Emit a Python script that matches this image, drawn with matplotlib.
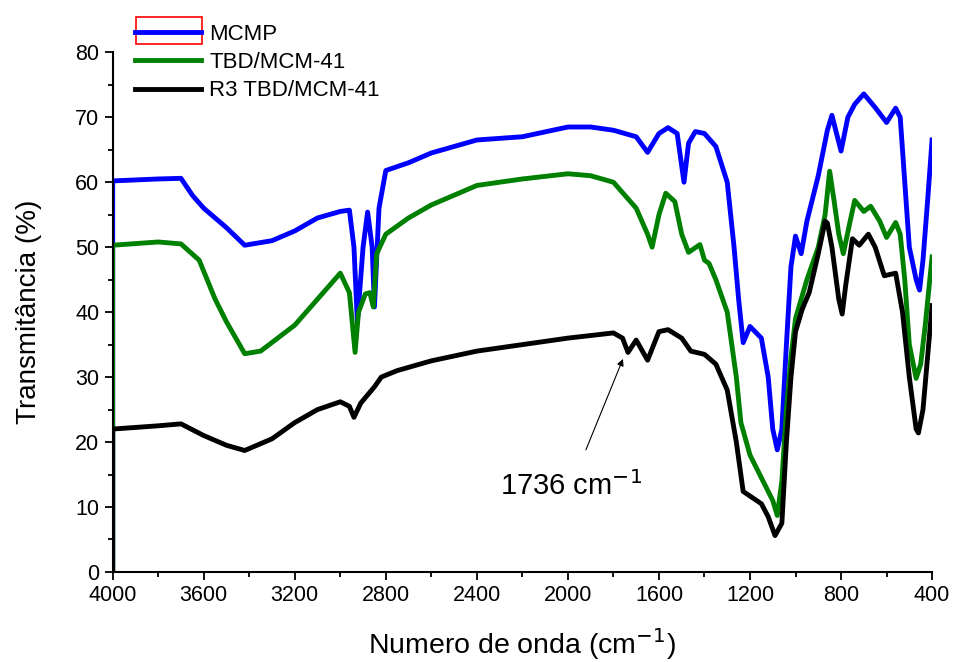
import numpy as np
import matplotlib.pyplot as plt
from matplotlib.patches import Rectangle
from matplotlib.ticker import MultipleLocator

plt.rcParams['font.family'] = ['Liberation Sans', 'DejaVu Sans']

# wavenumber (cm-1) / transmittance (%)
x_mcmp = [4000, 4000, 3800, 3700, 3650, 3600, 3500, 3420, 3300, 3200, 3100, 3000, 2960, 2940, 2925,
          2900, 2880, 2860, 2850, 2830, 2800, 2700, 2600, 2400, 2200, 2000, 1900, 1800, 1700, 1650,
          1600, 1560, 1520, 1490, 1470, 1440, 1400, 1350, 1300, 1270, 1250, 1230, 1200, 1150, 1120,
          1100, 1080, 1060, 1040, 1020, 1000, 975, 950, 900, 860, 840, 800, 770, 740, 700, 650, 600,
          560, 540, 520, 500, 470, 455, 440, 420, 400]
y_mcmp = [0, 60.2, 60.5, 60.6, 58, 56, 53, 50.3, 51, 52.5, 54.5, 55.5, 55.7, 50, 38.5,
          50, 55.4, 50, 40.8, 56, 61.8, 63, 64.5, 66.5, 67, 68.5, 68.5, 68, 67, 64.6,
          67.5, 68.4, 67.5, 60, 66, 67.8, 67.5, 65.5, 60, 50, 42, 35.3, 37.8, 36, 30,
          22, 18.8, 22, 35, 47, 51.7, 49, 54, 61, 68, 70.3, 64.8, 70, 72, 73.6, 71.5, 69.2,
          71.4, 70, 60, 50, 45, 43.4, 48, 57, 66.5]

x_tbd = [4000, 4000, 3800, 3700, 3620, 3550, 3500, 3420, 3350, 3200, 3100, 3000, 2960, 2935, 2920,
         2890, 2870, 2855, 2840, 2800, 2700, 2600, 2400, 2200, 2000, 1900, 1800, 1700, 1650, 1630,
         1600, 1570, 1530, 1500, 1470, 1420, 1400, 1380, 1350, 1300, 1260, 1240, 1200, 1150, 1100,
         1080, 1060, 1040, 1020, 1000, 950, 900, 870, 850, 830, 810, 790, 760, 740, 700, 670, 630,
         600, 560, 540, 520, 500, 470, 450, 430, 400]
y_tbd = [0, 50.3, 50.8, 50.5, 48, 42, 38.5, 33.6, 34, 38, 42, 46, 43, 33.8, 40,
         42.8, 43, 40.8, 49, 52, 54.5, 56.5, 59.5, 60.5, 61.3, 61, 60, 56, 52, 50,
         55, 58.3, 57, 52, 49.2, 50.4, 48, 47.5, 45, 40, 30, 23, 18, 14.5, 11,
         8.7, 14, 25, 33, 39, 45, 50, 55, 61.7, 57, 52, 49, 54, 57.2, 55.5, 56.3, 54,
         51.5, 53.8, 52, 45, 35, 29.8, 32, 38, 48.5]

x_r3 = [4000, 4000, 3800, 3700, 3600, 3500, 3420, 3300, 3200, 3100, 3000, 2960, 2940, 2910, 2850,
        2820, 2750, 2600, 2400, 2200, 2000, 1800, 1760, 1736, 1700, 1650, 1600, 1560, 1500, 1460,
        1400, 1350, 1300, 1260, 1230, 1150, 1120, 1090, 1060, 1040, 1020, 1000, 970, 940, 900, 870,
        860, 840, 810, 795, 780, 750, 720, 680, 650, 610, 560, 530, 500, 470, 460, 440, 420, 400]
y_r3 = [0, 22, 22.5, 22.8, 21, 19.5, 18.7, 20.5, 23, 25, 26.2, 25.5, 23.8, 26, 28.5,
        30, 31, 32.5, 34, 35, 36, 36.8, 36, 33.8, 35.7, 32.6, 37, 37.3, 36, 34,
        33.5, 32, 28, 20, 12.4, 10.5, 8.5, 5.6, 7.5, 20, 30, 37, 40.5, 43, 49, 54,
        53.7, 50, 42, 39.7, 44, 51.3, 50.3, 52, 50, 45.6, 46, 40, 30, 22, 21.4, 25, 33, 41]

labels = ['MCMP', 'TBD/MCM-41', 'R3 TBD/MCM-41']
colors = ['#0000ff', '#008000', '#000000']

fig = plt.figure(figsize=(9.55, 6.62), dpi=100)
ax = fig.add_axes([0.118, 0.136, 0.858, 0.785])

lines = []
for xs, ys, c, lab in zip([x_mcmp, x_tbd, x_r3], [y_mcmp, y_tbd, y_r3], colors, labels):
    ln, = ax.plot(xs, ys, color=c, lw=3.5, label=lab, solid_joinstyle='round')
    lines.append(ln)

ax.set_xlim(4000, 400)
ax.set_ylim(0, 80)
ax.xaxis.set_major_locator(MultipleLocator(400))
ax.xaxis.set_minor_locator(MultipleLocator(200))
ax.yaxis.set_major_locator(MultipleLocator(10))
ax.yaxis.set_minor_locator(MultipleLocator(5))
ax.spines['top'].set_visible(False)
ax.spines['right'].set_visible(False)
ax.spines['left'].set_linewidth(1.5)
ax.spines['bottom'].set_linewidth(1.5)
ax.tick_params(which='major', direction='out', length=6, width=1.3, labelsize=15.5)
ax.tick_params(which='minor', direction='out', length=3.5, width=1.3)

ax.set_xlabel('Numero de onda (cm$^{-1}$)', fontsize=20.5, labelpad=14)
ax.set_ylabel('Transmitância (%)', fontsize=20, labelpad=24)

ax.annotate('1736 cm$^{-1}$', xy=(1758, 32.8), xytext=(1985, 13.3),
            fontsize=21, ha='center', va='center',
            arrowprops=dict(arrowstyle='-|>', color='black', lw=0.8,
                            mutation_scale=10, shrinkA=14, shrinkB=0))

leg = fig.legend(handles=lines, labels=labels, loc='upper left',
                 bbox_to_anchor=(0.141, 0.964), frameon=False, fontsize=16,
                 handlelength=3.0, handletextpad=0.35, labelspacing=0.33,
                 borderaxespad=0, borderpad=0)

# red box around the first legend handle, as in the source figure
fig.add_artist(Rectangle((136 / 955, 1 - 44 / 662), 66 / 955, 27 / 662,
                         transform=fig.transFigure, fill=False, ec='red', lw=1.2))

fig.savefig('out.png', dpi=100)
